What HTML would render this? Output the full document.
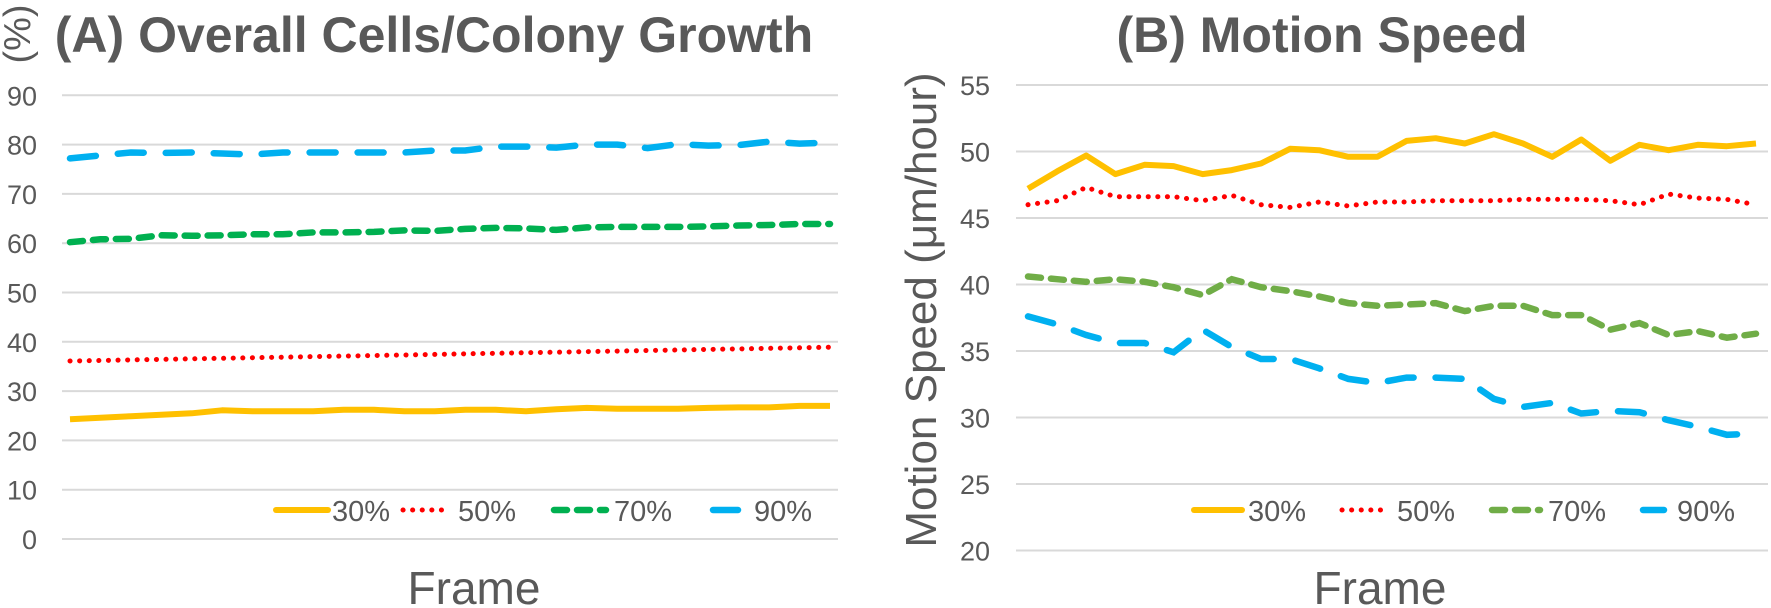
<!DOCTYPE html>
<html><head><meta charset="utf-8"><style>
html,body{margin:0;padding:0;background:#fff;}
svg{display:block;font-family:"Liberation Sans",Arial,sans-serif;}
</style></head><body>
<svg id="s" width="1771" height="608" viewBox="0 0 1771 608" xmlns="http://www.w3.org/2000/svg">
<g id="g"></g>
<text x="434" y="52" font-size="50" font-weight="bold" fill="#595959" text-anchor="middle">(A) Overall Cells/Colony Growth</text>
<text x="1322" y="52" font-size="50" font-weight="bold" fill="#595959" text-anchor="middle">(B) Motion Speed</text>
<text transform="translate(30,34) rotate(-90)" font-size="38" fill="#595959" text-anchor="middle">(%)</text>
<text transform="translate(936,310) rotate(-90)" font-size="44" fill="#595959" text-anchor="middle">Motion Speed (μm/hour)</text>
<text x="474" y="604" font-size="46" fill="#595959" text-anchor="middle">Frame</text>
<text x="1380" y="604" font-size="46" fill="#595959" text-anchor="middle">Frame</text>
</svg>
<script>
var g=document.getElementById('g');var NS='http://www.w3.org/2000/svg';
function el(t,a,txt){var e=document.createElementNS(NS,t);for(var k in a)e.setAttribute(k,a[k]);if(txt)e.textContent=txt;g.appendChild(e);return e;}
function ly(v){return 539-v*4.93;}
for(var v=0;v<=90;v+=10){el('line',{x1:62,x2:838,y1:ly(v),y2:ly(v),stroke:'#d9d9d9','stroke-width':2});
el('text',{x:37,y:ly(v)+10,'font-size':27,fill:'#595959','text-anchor':'end'},''+v);}
function ry(v){return 85+(55-v)*13.3;}
for(var v=20;v<=55;v+=5){el('line',{x1:1016,x2:1768,y1:ry(v),y2:ry(v),stroke:'#d9d9d9','stroke-width':2});
el('text',{x:990,y:ry(v)+10,'font-size':27,fill:'#595959','text-anchor':'end'},''+v);}
var styles={
 '30':{stroke:'#FFC000','stroke-width':6,'stroke-linejoin':'round'},
 '50':{stroke:'#FF0000','stroke-width':5,'stroke-dasharray':'0.1 9.5','stroke-linecap':'round'},
 '70':{stroke:'#00B050','stroke-width':6.5,'stroke-dasharray':'13 10','stroke-linecap':'round'},
 '70b':{stroke:'#70AD47','stroke-width':6.5,'stroke-dasharray':'13 10','stroke-linecap':'round'},
 '90':{stroke:'#00B0F0','stroke-width':6.5,'stroke-dasharray':'26 22','stroke-linecap':'round'}
};
function series(data,x0,x1,yf,st){var n=data.length,p=[];for(var i=0;i<n;i++)p.push((x0+(x1-x0)*i/(n-1)).toFixed(1)+','+yf(data[i]).toFixed(1));
var a={points:p.join(' '),fill:'none'};for(var k in st)a[k]=st[k];el('polyline',a);}
var L30=[24.3,24.6,24.9,25.2,25.5,26.1,25.9,25.9,25.9,26.2,26.2,25.9,25.9,26.2,26.2,25.9,26.3,26.6,26.4,26.4,26.4,26.6,26.7,26.7,27.0,27.0];
var L50=[];for(var i=0;i<26;i++)L50.push(36.1+2.8*i/25);
var L70=[60.2,60.8,60.9,61.6,61.5,61.6,61.8,61.8,62.2,62.2,62.3,62.6,62.5,62.9,63.1,63.0,62.7,63.2,63.3,63.3,63.3,63.4,63.6,63.7,63.9,63.9];
var L90=[77.2,77.8,78.4,78.3,78.4,78.2,78.0,78.4,78.4,78.4,78.4,78.4,78.8,78.8,79.6,79.6,79.4,80.0,80.0,79.3,80.1,79.8,79.9,80.6,80.2,80.4];
series(L30,70,830,ly,styles['30']);series(L50,70,830,ly,styles['50']);series(L70,70,830,ly,styles['70']);series(L90,70,830,ly,styles['90']);
var R30=[47.2,48.5,49.7,48.3,49.0,48.9,48.3,48.6,49.1,50.2,50.1,49.6,49.6,50.8,51.0,50.6,51.3,50.6,49.6,50.9,49.3,50.5,50.1,50.5,50.4,50.6];
var R50=[46.0,46.3,47.3,46.6,46.6,46.6,46.3,46.7,46.0,45.8,46.2,45.9,46.2,46.2,46.3,46.3,46.3,46.4,46.4,46.4,46.3,46.0,46.8,46.5,46.4,46.0];
var R70=[40.6,40.4,40.2,40.4,40.2,39.8,39.2,40.4,39.8,39.5,39.1,38.6,38.4,38.5,38.6,38.0,38.4,38.4,37.7,37.7,36.6,37.1,36.2,36.5,36.0,36.3];
var R90=[37.6,37.0,36.2,35.6,35.6,34.9,36.6,35.3,34.4,34.4,33.7,32.9,32.6,33.0,33.0,32.9,31.4,30.8,31.1,30.3,30.5,30.4,29.8,29.3,28.7,28.8];
series(R30,1028,1756,ry,styles['30']);series(R50,1028,1756,ry,styles['50']);series(R70,1028,1756,ry,styles['70b']);series(R90,1028,1756,ry,styles['90']);
function legend(xs,y,c70){var items=[['30',styles['30']],['50',styles['50']],['70',c70],['90',styles['90']]];
for(var i=0;i<4;i++){var it=xs[i];var a={x1:it[0],x2:it[1],y1:y,y2:y};for(var k in items[i][1])a[k]=items[i][1][k];
if(items[i][0]=='30')a['stroke-linecap']='round';el('line',a);
el('text',{x:it[2],y:y+11,'font-size':29,fill:'#595959'},items[i][0]+'%');}}
legend([[276,328,332],[403,450,458],[554,606,614],[713,738,754]],510,styles['70']);
legend([[1194,1242,1248],[1342,1388,1397],[1492,1540,1548],[1643,1664,1677]],510,styles['70b']);
</script>
</body></html>
